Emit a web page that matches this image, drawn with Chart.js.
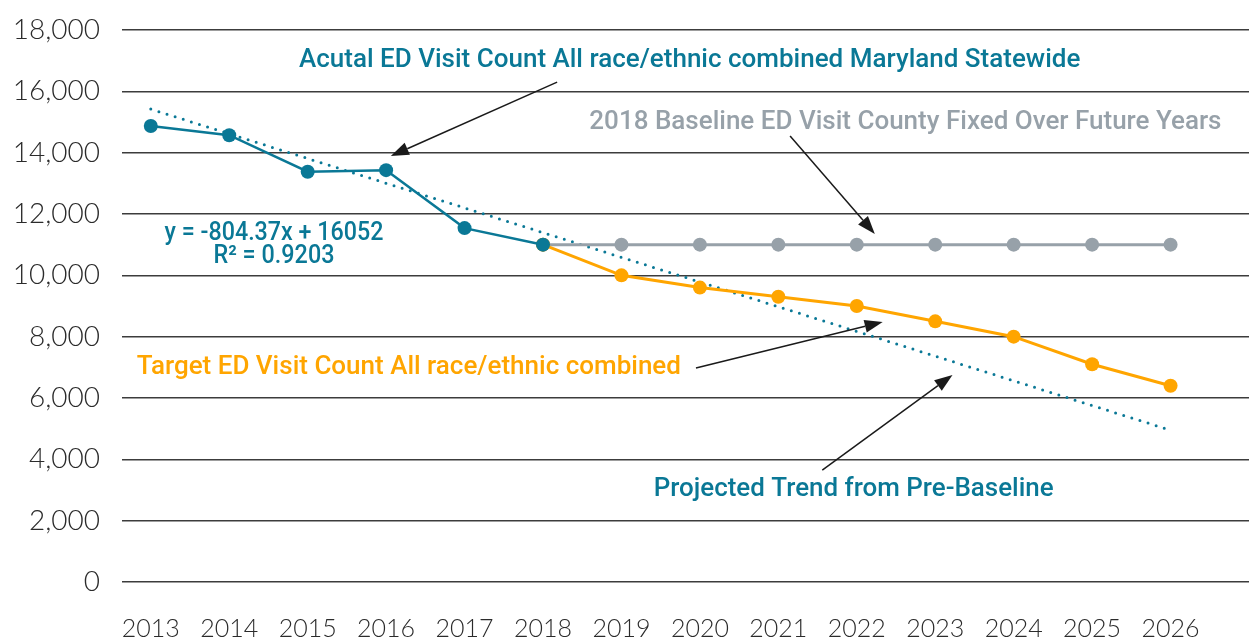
<!DOCTYPE html>
<html>
<head>
<meta charset="utf-8">
<script src="https://cdn.jsdelivr.net/npm/chart.js@4"></script>
<style>
    body { margin: 0; background: #fff; }
    #wrap { width: 1256px; height: 644px; position: relative; }
</style>
</head>
<body>
<div id="wrap"><canvas id="graph"></canvas></div>
<script>
// données
const years = [2013, 2014, 2015, 2016, 2017, 2018, 2019, 2020, 2021, 2022, 2023, 2024, 2025, 2026];
const actual = [14870, 14570, 13380, 13430, 11540, 11000, null, null, null, null, null, null, null, null];
const baseline = [null, null, null, null, null, 11000, 11000, 11000, 11000, 11000, 11000, 11000, 11000, 11000];
const target = [null, null, null, null, null, 11000, 10000, 9600, 9300, 9000, 8500, 8000, 7100, 6400];
const trendYears = [2013, 2026];
const trendValues = [15420, 4950];
const yTicks = [0, 2000, 4000, 6000, 8000, 10000, 12000, 14000, 16000, 18000];

const TEAL = '#0A7896';
const ORANGE = '#FFA500';
const GRAY = '#97A1A9';

// annotations (coordonnées en unités du graphique)
const notes = [
    { text: 'Acutal ED Visit Count All race/ethnic combined Maryland Statewide', x: 2019.87, y: 17020, w: 785, color: TEAL },
    { text: '2018 Baseline ED Visit County Fixed Over Future Years', x: 2022.62, y: 15000, w: 633, color: GRAY },
    { text: 'y = -804.37x + 16052', x: 2014.57, y: 11380, w: 219, color: TEAL },
    { text: 'R\u00B2 = 0.9203', x: 2014.57, y: 10600, w: 121, color: TEAL },
    { text: 'Target ED Visit Count All race/ethnic combined', x: 2016.29, y: 7010, w: 547, color: ORANGE },
    { text: 'Projected Trend from Pre-Baseline', x: 2021.96, y: 3030, w: 400, color: TEAL }
];
const arrows = [
    { from: [2018.18, 16300], to: [2016.06, 13890] },
    { from: [2021.15, 14540], to: [2022.23, 11350] },
    { from: [2019.95, 6980], to: [2022.33, 8480] },
    { from: [2021.56, 3650], to: [2023.22, 6750] }
];

const toPoints = (xs, vals) => xs.map((x, i) => ({ x: x, y: vals[i] })).filter(p => p.y !== null);

const annotationPlugin = {
    id: 'notes',
    afterDatasetsDraw(chart) {
        const ctx = chart.ctx;
        const sx = chart.scales.x, sy = chart.scales.y;
        ctx.save();
        //flèches
        arrows.forEach(a => {
            const x1 = sx.getPixelForValue(a.from[0]), y1 = sy.getPixelForValue(a.from[1]);
            const x2 = sx.getPixelForValue(a.to[0]), y2 = sy.getPixelForValue(a.to[1]);
            const ang = Math.atan2(y2 - y1, x2 - x1);
            const len = 18, half = 6.5;
            ctx.strokeStyle = '#1a1a1a';
            ctx.fillStyle = '#1a1a1a';
            ctx.lineWidth = 1.5;
            ctx.beginPath();
            ctx.moveTo(x1, y1);
            ctx.lineTo(x2 - Math.cos(ang) * len, y2 - Math.sin(ang) * len);
            ctx.stroke();
            ctx.beginPath();
            ctx.moveTo(x2, y2);
            ctx.lineTo(x2 - Math.cos(ang) * len - Math.sin(ang) * half, y2 - Math.sin(ang) * len + Math.cos(ang) * half);
            ctx.lineTo(x2 - Math.cos(ang) * len + Math.sin(ang) * half, y2 - Math.sin(ang) * len - Math.cos(ang) * half);
            ctx.closePath();
            ctx.fill();
        });
        //textes
        ctx.font = '500 26px Roboto';
        ctx.textAlign = 'center';
        ctx.textBaseline = 'middle';
        notes.forEach(n => {
            ctx.fillStyle = n.color;
            ctx.fillText(n.text, sx.getPixelForValue(n.x), sy.getPixelForValue(n.y), n.w);
        });
        ctx.restore();
    }
};

const canvas = document.getElementById('graph');
new Chart(canvas, {
    type: 'line',
    data: {
        datasets: [
            {
                label: 'Actual',
                data: toPoints(years, actual),
                borderColor: TEAL,
                backgroundColor: TEAL,
                borderWidth: 2.5,
                pointRadius: 7,
                pointBorderWidth: 0,
                order: 1
            },
            {
                label: 'Baseline',
                data: toPoints(years, baseline),
                borderColor: GRAY,
                backgroundColor: GRAY,
                borderWidth: 3,
                pointRadius: 7,
                pointBorderWidth: 0,
                order: 3
            },
            {
                label: 'Target',
                data: toPoints(years, target),
                borderColor: ORANGE,
                backgroundColor: ORANGE,
                borderWidth: 3,
                pointRadius: 7,
                pointBorderWidth: 0,
                order: 2
            },
            {
                label: 'Trend',
                data: toPoints(trendYears, trendValues),
                borderColor: TEAL,
                borderWidth: 3,
                borderDash: [0, 8.5],
                borderCapStyle: 'round',
                pointRadius: 0,
                order: 4
            }
        ]
    },
    options: {
        responsive: true,
        maintainAspectRatio: false,
        animation: false,
        layout: { padding: { top: 30, right: 0, bottom: 0, left: 0 } },
        plugins: {
            legend: { display: false },
            tooltip: { enabled: false }
        },
        scales: {
            x: {
                type: 'linear',
                min: 2012.633,
                max: 2027,
                afterBuildTicks: (scale) => { scale.ticks = years.map(v => ({ value: v })); },
                afterFit: (scale) => { scale.height = 62; scale.paddingLeft = 0; scale.paddingRight = 0; },
                grid: { display: false, drawTicks: false },
                border: { display: false },
                ticks: {
                    padding: 32,
                    color: '#2b2b2b',
                    font: { family: 'Lato', size: 25, weight: '300' },
                    callback: (v) => String(v),
                    maxRotation: 0
                }
            },
            y: {
                min: 0,
                max: 18000,
                afterBuildTicks: (scale) => { scale.ticks = yTicks.map(v => ({ value: v })); },
                afterFit: (scale) => { scale.width = 122; scale.paddingTop = 0; scale.paddingBottom = 0; },
                grid: { color: '#3c3c3c', lineWidth: 1.5, drawTicks: false },
                border: { display: false },
                ticks: {
                    padding: 22,
                    color: '#2b2b2b',
                    font: { family: 'Lato', size: 28, weight: '300' },
                    callback: (v) => v.toLocaleString('en-US')
                }
            }
        }
    },
    plugins: [annotationPlugin]
});
</script>
</body>
</html>
